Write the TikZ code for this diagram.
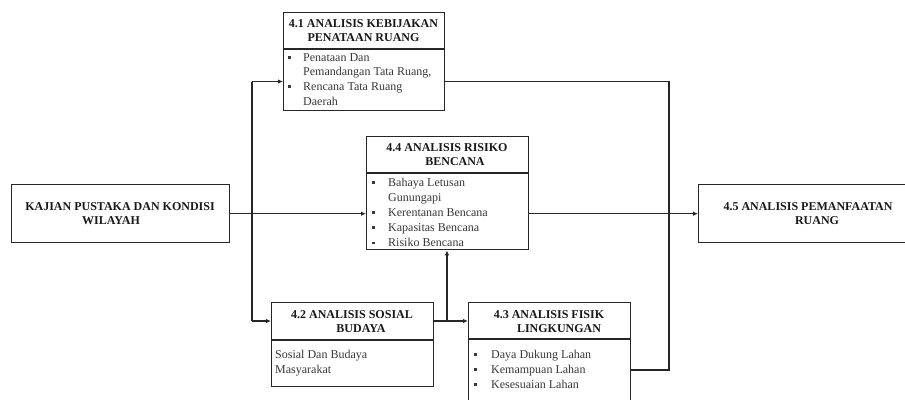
\documentclass[tikz,border=0pt]{standalone}
\usepackage{fontspec}
\setmainfont{Liberation Serif}
\usetikzlibrary{arrows.meta}
\tikzset{
  boxline/.style={draw=black!85, line width=1.4pt},
  box/.style={boxline, rectangle, inner sep=0pt, fill=white, anchor=north west},
  ttl/.style={inner sep=0pt, anchor=base, font=\fontsize{12}{14.5}\selectfont\bfseries, text=black!90},
  bodytxt/.style={inner sep=0pt, anchor=base west, text=black!78},
  conn/.style={draw=black!85, line width=1.3pt},
  arr/.style={conn, -{Latex[length=5pt,width=4.5pt]}},
}
\newcommand{\bulmark}{\raisebox{2.4pt}{\rule{2.8pt}{2.8pt}}}
\begin{document}
\begin{tikzpicture}[x=1pt,y=-1pt]
\useasboundingbox (0,0) rectangle (905,399);

% boxes
\node[box, minimum width=218pt, minimum height=58pt] (kaj) at (11,184) {};
\node[box, minimum width=161pt, minimum height=98pt] (b41) at (283,12) {};
\node[box, minimum width=162pt, minimum height=113pt] (b44) at (366,136) {};
\node[box, minimum width=220pt, minimum height=58pt] (b45) at (698,184) {};
\node[box, minimum width=162pt, minimum height=84pt] (b42) at (271,302) {};
\node[box, minimum width=162pt, minimum height=120pt] (b43) at (468,302) {};

% dividers
\draw[boxline] (b41.west |- 0,49) -- (b41.east |- 0,49);
\draw[boxline] (b44.west |- 0,173) -- (b44.east |- 0,173);
\draw[boxline] (b42.west |- 0,340) -- (b42.east |- 0,340);
\draw[boxline] (b43.west |- 0,339) -- (b43.east |- 0,339);

% titles
\node[ttl] (tkaj) at (120,210) {\begin{tabular}[t]{@{}c@{}}KAJIAN PUSTAKA DAN KONDISI\\WILAYAH\hspace*{18pt}\end{tabular}};
\node[ttl] (t41) at (363.5,27) {\begin{tabular}[t]{@{}c@{}}4.1 ANALISIS KEBIJAKAN\\PENATAAN RUANG\end{tabular}};
\node[ttl] (t44) at (447,151) {\begin{tabular}[t]{@{}c@{}}4.4 ANALISIS RISIKO\\\hspace*{16pt}BENCANA\end{tabular}};
\node[ttl] (t45) at (808,210) {\begin{tabular}[t]{@{}c@{}}4.5 ANALISIS PEMANFAATAN\\\hspace*{18pt}RUANG\end{tabular}};
\node[ttl] (t42) at (352,318) {\begin{tabular}[t]{@{}c@{}}4.2 ANALISIS SOSIAL\\\hspace*{18pt}BUDAYA\end{tabular}};
\node[ttl] (t43) at (549,318) {\begin{tabular}[t]{@{}c@{}}4.3 ANALISIS FISIK\\\hspace*{20pt}LINGKUNGAN\end{tabular}};

% bodies
\node[bodytxt, font=\fontsize{12}{14.7}\selectfont] (x41) at (287.6,61) {\begin{tabular}[t]{@{}l@{\hspace{12.6pt}}l@{}}\bulmark & Penataan Dan\\ & Pemandangan Tata Ruang,\\ \bulmark & Rencana Tata Ruang\\ & Daerah\end{tabular}};
\node[bodytxt, font=\fontsize{12}{15.2}\selectfont] (x44) at (371.6,186) {\begin{tabular}[t]{@{}l@{\hspace{13.6pt}}l@{}}\bulmark & Bahaya Letusan\\ & Gunungapi\\ \bulmark & Kerentanan Bencana\\ \bulmark & Kapasitas Bencana\\ \bulmark & Risiko Bencana\end{tabular}};
\node[bodytxt, font=\fontsize{12}{15}\selectfont] (x42) at (275,358) {\begin{tabular}[t]{@{}l@{}}Sosial Dan Budaya\\Masyarakat\end{tabular}};
\node[bodytxt, font=\fontsize{12}{15}\selectfont] (x43) at (473.6,358) {\begin{tabular}[t]{@{}l@{\hspace{14.6pt}}l@{}}\bulmark & Daya Dukung Lahan\\ \bulmark & Kemampuan Lahan\\ \bulmark & Kesesuaian Lahan\end{tabular}};

% connector points
\coordinate (s1) at (252,81.5);
\coordinate (s2) at (252,321);
\coordinate (r1) at (669,81.5);
\coordinate (r2) at (669,370);
\coordinate (m) at (447,321);

% connectors
\draw[arr] (kaj.east) -- (kaj.east -| b44.west);
\draw[conn] (s1) -- (s2);
\draw[arr] (s1) -- (s1 -| b41.west);
\draw[arr] (s2) -- (s2 -| b42.west);
\draw[conn] (b41.east |- s1) -- (r1) -- (r2) -- (r2 -| b43.east);
\draw[arr] (b44.east |- b45.west) -- (b45.west);
\draw[conn] (b42.east |- m) -- (m);
\draw[arr] (m) -- (m -| b43.west);
\draw[arr] (m) -- (m |- b44.south);
\end{tikzpicture}
\end{document}
